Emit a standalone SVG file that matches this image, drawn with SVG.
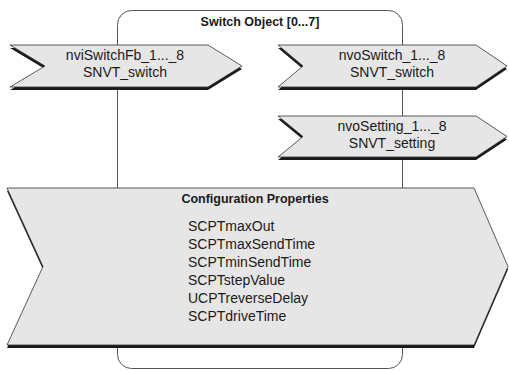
<svg xmlns="http://www.w3.org/2000/svg" width="509" height="370" viewBox="0 0 509 370">
<style>
.frame{fill:#fff;stroke:#555;stroke-width:1}
.body{fill:#e6e6e7;stroke:#333;stroke-width:0.8;stroke-linejoin:miter}
.shadow{fill:#1a1a1a}
.t{font-family:"Liberation Sans","Open Sans",Arial,sans-serif;font-size:14px;fill:#1a1a1a}
.c{text-anchor:middle}
.b{font-weight:bold;font-size:12.5px}
</style>
<rect width="509" height="370" fill="#fff"/>
<g id="switch-object">
<rect class="frame" x="117.5" y="10.5" width="285" height="358" rx="14" ry="14"/>
<text class="t b c" x="260" y="26">Switch Object [0...7]</text>
</g>
<g id="nviSwitchFb">
<polygon class="shadow" points="10,48 208,48 242,69 208,90 10,90 45,69"/>
<polygon class="body" points="10,45 208,45 242,66 208,87 10,87 45,66"/>
<text class="t c" x="125" y="59.5">nviSwitchFb_1..._8</text>
<text class="t c" x="125" y="76.5">SNVT_switch</text>
</g>
<g id="nvoSwitch">
<polygon class="shadow" points="278,48 476,48 507,69 476,90 278,90 303,69"/>
<polygon class="body" points="278,45 476,45 507,66 476,87 278,87 303,66"/>
<text class="t c" x="392" y="59.5">nvoSwitch_1..._8</text>
<text class="t c" x="392" y="76.5">SNVT_switch</text>
</g>
<g id="nvoSetting">
<polygon class="shadow" points="278,119 476,119 507,139.5 476,160 278,160 303,139.5"/>
<polygon class="body" points="278,116 476,116 507,136.5 476,157 278,157 303,136.5"/>
<text class="t c" x="392" y="130.5">nvoSetting_1..._8</text>
<text class="t c" x="392" y="147.5">SNVT_setting</text>
</g>
<g id="configuration-properties">
<polygon class="shadow" points="7,191 474,191 508,269.5 474,348 7,348 43,269.5"/>
<polygon class="body" points="7,188 474,188 508,266.5 474,345 7,345 43,266.5"/>
<text class="t b c" x="255" y="203">Configuration Properties</text>
<text class="t" x="188" y="231">SCPTmaxOut</text>
<text class="t" x="188" y="249">SCPTmaxSendTime</text>
<text class="t" x="188" y="267">SCPTminSendTime</text>
<text class="t" x="188" y="285">SCPTstepValue</text>
<text class="t" x="188" y="303">UCPTreverseDelay</text>
<text class="t" x="188" y="321">SCPTdriveTime</text>
</g>
</svg>
